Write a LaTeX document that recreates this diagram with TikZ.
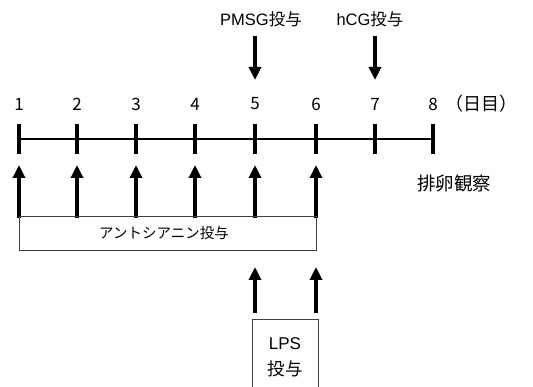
\documentclass[tikz,border=0pt]{standalone}
\usepackage{fontspec}
\setmainfont{Liberation Sans}
\newfontfamily\jp{Noto Sans CJK JP}
\usetikzlibrary{arrows.meta}
\tikzset{
  bigarrow/.style={line width=3.2pt,-{Triangle[width=12pt,length=13pt]}},
  lbl/.style={inner sep=0pt},
  num/.style={font=\jp\fontsize{17}{19}\selectfont,inner sep=0pt},
  tick/.style={line width=3.2pt},
  pbox/.style={draw=black!75,line width=0.8pt,inner sep=0pt}
}
\begin{document}
\begin{tikzpicture}[x=1pt,y=-1pt]
\useasboundingbox (0,0) rectangle (533,387);
\clip (0,0) rectangle (533,387);
\fill[white] (0,0) rectangle (533,387);
% day coordinates
\foreach \i/\x in {1/19,2/77,3/136,4/195,5/255,6/316,7/375,8/433}{
  \coordinate (t\i) at (\x,124);
  \coordinate (b\i) at (\x,154);
  \node[num] (n\i) at (\x,104) {\i};
  \draw[tick] (t\i) -- (b\i);
}
\node[lbl,font=\jp\fontsize{18}{20}\selectfont] (unit) at (481,104) {（日目）};
\draw[line width=2.8pt] (19,139) coordinate (ax1) -- (433,139) coordinate (ax8);
% top labels and arrows
\node[lbl,font=\fontsize{16.5}{18}\selectfont] (pmsg) at (261,19) {PMSG{\jp 投与}};
\node[lbl,font=\fontsize{16.5}{18}\selectfont] (hcg) at (370,19) {hCG{\jp 投与}};
\coordinate (pmsgS) at (255,36);
\coordinate (pmsgE) at (255,80);
\coordinate (hcgS) at (375,36);
\coordinate (hcgE) at (375,80);
\draw[bigarrow] (pmsgS) -- (pmsgE);
\draw[bigarrow] (hcgS) -- (hcgE);
% up arrows
\foreach \i/\x in {1/19,2/77,3/136,4/195,5/255,6/316}{
  \coordinate (us\i) at (\x,218);
  \coordinate (ue\i) at (\x,165);
  \draw[bigarrow] (us\i) -- (ue\i);
}
\node[lbl,font=\jp\fontsize{18.5}{20}\selectfont] (ovu) at (454,184) {排卵観察};
% anthocyanin box
\node[pbox,minimum width=297pt,minimum height=34pt] (antho) at (167.5,233.5) {};
\node[lbl,font=\jp\fontsize{14.5}{16}\selectfont] (anthot) at (164,233) {アントシアニン投与};
% LPS arrows
\foreach \i/\x in {5/255,6/316}{
  \coordinate (ls\i) at (\x,313);
  \coordinate (le\i) at (\x,267);
  \draw[bigarrow] (ls\i) -- (le\i);
}
% LPS box (cut at bottom)
\node[pbox,minimum width=66pt,minimum height=80pt,anchor=north west] (lps) at (252,319) {};
\node[lbl,font=\fontsize{17}{19}\selectfont] (lpst) at (285,344) {LPS};
\node[lbl,font=\jp\fontsize{17.5}{19}\selectfont] (lpst2) at (285,369) {投与};
\end{tikzpicture}
\end{document}
